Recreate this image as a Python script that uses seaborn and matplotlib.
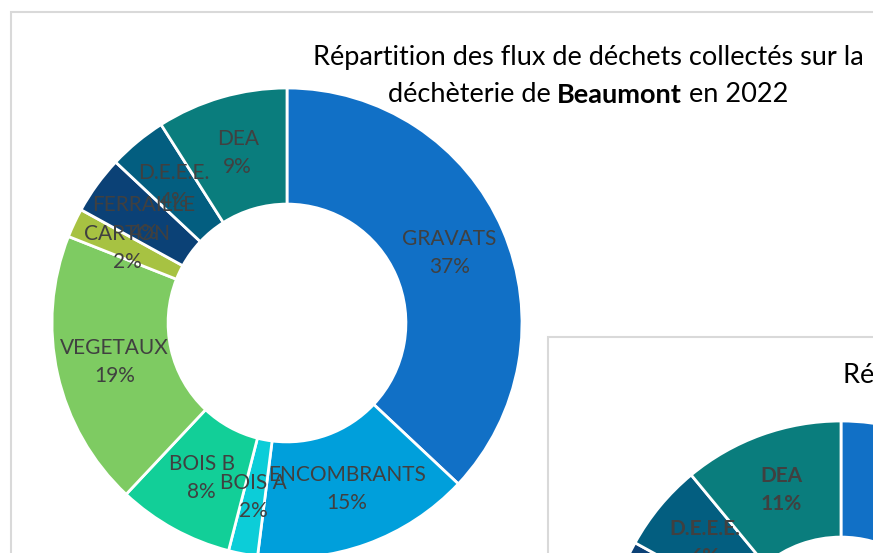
import numpy as np
import matplotlib
matplotlib.use('Agg')
import matplotlib.pyplot as plt
import seaborn as sns
from matplotlib.patches import Rectangle

# data
categories = ['GRAVATS', 'ENCOMBRANTS', 'BOIS A', 'BOIS B', 'VEGETAUX',
              'CARTON', 'FERRAILLE', 'D.E.E.E.', 'DEA']
beaumont_pct = [37, 15, 2, 8, 19, 2, 4, 4, 9]
# second chart, mostly outside the screenshot (only DEA / D.E.E.E. visible)
second_pct = [33, 16, 2, 9, 16, 2, 5, 6, 11]
colors = ['#1170C6', '#009FDB', '#0CCDD8', '#12CF98', '#7ECB62',
          '#A7C242', '#0B4176', '#035E80', '#0A7D7D']
title_line1 = 'Répartition des flux de déchets collectés sur la'
title_line2 = ['déchèterie de ', 'Beaumont', ' en 2022']

sns.set_theme(style='white')
plt.rcParams['font.family'] = ['Lato', 'DejaVu Sans']

W, H = 873, 553
TITLE_FS = 19.5
fig = plt.figure(figsize=(W / 100, H / 100), dpi=100)
fig.patch.set_facecolor('white')


def px_box(cx, cy, r):
    return [(cx - r) / W, (H - cy - r) / H, 2 * r / W, 2 * r / H]


def donut(ax, values, bold):
    ring = 0.494
    wedges, _ = ax.pie(values, colors=sns.color_palette(colors), startangle=90,
                       counterclock=False, radius=1,
                       wedgeprops=dict(width=ring, edgecolor='white', linewidth=2))
    for w, name, v in zip(wedges, categories, values):
        ang = np.deg2rad((w.theta1 + w.theta2) / 2)
        r = 1 - ring / 2
        ax.text(r * np.cos(ang), r * np.sin(ang), f'{name}\n{v}%',
                ha='center', va='center', fontsize=15, color='#404040',
                linespacing=1.5, fontweight='bold' if bold else 'normal')
    ax.set_xlim(-1, 1)
    ax.set_ylim(-1, 1)
    ax.set_aspect('equal')
    ax.axis('off')


# chart frame of the first chart
fig.add_artist(Rectangle((11 / W, -0.1), 1, (H - 12) / H + 0.1,
                         transform=fig.transFigure, facecolor='white',
                         edgecolor='#D9D9D9', lw=1.5, zorder=-1))

ax1 = fig.add_axes(px_box(287, 323, 235))
ax1.patch.set_alpha(0)
donut(ax1, beaumont_pct, bold=False)

# title with bold town name
fig.text(588 / W, 1 - 57 / H, title_line1, ha='center', va='center',
         fontsize=TITLE_FS, color='black')
parts = [fig.text(0, 1 - 95 / H, s, ha='left', va='center', fontsize=TITLE_FS,
                  color='black', fontweight='bold' if i == 1 else 'normal')
         for i, s in enumerate(title_line2)]
fig.canvas.draw()
rend = fig.canvas.get_renderer()
widths = [p.get_window_extent(rend).width for p in parts]
x = 588 - sum(widths) / 2
for p, w in zip(parts, widths):
    p.set_x(x / W)
    x += w

# second chart overlapping bottom right
fig.add_artist(Rectangle((548 / W, -0.1), 1, (H - 337) / H + 0.1,
                         transform=fig.transFigure, facecolor='white',
                         edgecolor='#D9D9D9', lw=1.5, zorder=1))
ax2 = fig.add_axes(px_box(841, 656, 235))
ax2.set_zorder(2)
ax2.patch.set_alpha(0)
donut(ax2, second_pct, bold=True)
t = fig.text(843 / W, 1 - 376 / H, title_line1, ha='left', va='center',
             fontsize=TITLE_FS, color='black')
t.set_zorder(3)

fig.savefig('out.png', dpi=100)
